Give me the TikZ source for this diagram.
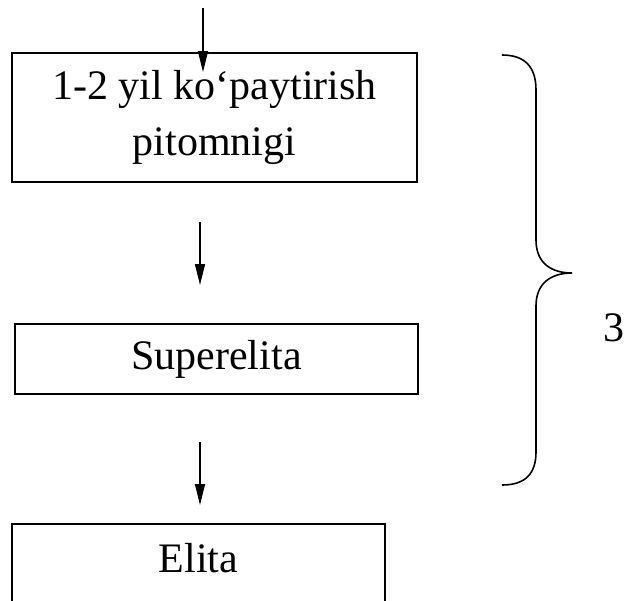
\documentclass[tikz,border=0pt]{standalone}
\usepackage{fontspec}
\setmainfont{Liberation Serif}
\usetikzlibrary{arrows.meta}
\begin{document}
\begin{tikzpicture}[x=1pt,y=-1pt,
  every node/.style={font=\fontsize{42}{56}\selectfont},
  box/.style={draw,line width=1.6pt,align=center,inner sep=0pt},
  arr/.style={-{Triangle[length=21pt,width=10pt]},line width=1.6pt}]

\clip (0,0) rectangle (624,600);

% the boxes
\node[box,minimum width=405pt,minimum height=129pt] (nursery) at (214.5,117.5) {1-2 yil ko‘paytirish\\pitomnigi};
\node[box,minimum width=403pt,minimum height=70pt] (superelite) at (216.5,359) {Superelita};
\node[box,anchor=north,minimum width=373pt,inner ysep=20pt,text height=29pt,text depth=40pt] (elite) at (198.5,523) {Elita};

% arrow ends
\coordinate (a1) at (203,8);
\coordinate (b1) at (203,72);
\coordinate (a2) at (200,222);
\coordinate (b2) at (200,285);
\coordinate (a3) at (200,442);
\coordinate (b3) at (200,505);

% the arrows
\draw[arr] (a1) -- (b1);
\draw[arr] (a2) -- (b2);
\draw[arr] (a3) -- (b3);

% the brace and its label
\draw[line width=1.6pt] (502,55) .. controls (525,55) and (536,67) .. (536,90) -- (536,240)
   .. controls (536,262) and (550,273) .. (572,273)
   .. controls (550,273) and (536,284) .. (536,306) -- (536,452)
   .. controls (536,474) and (525,485) .. (502,485);
\node (count) at (614,328) {3};

\end{tikzpicture}
\end{document}
